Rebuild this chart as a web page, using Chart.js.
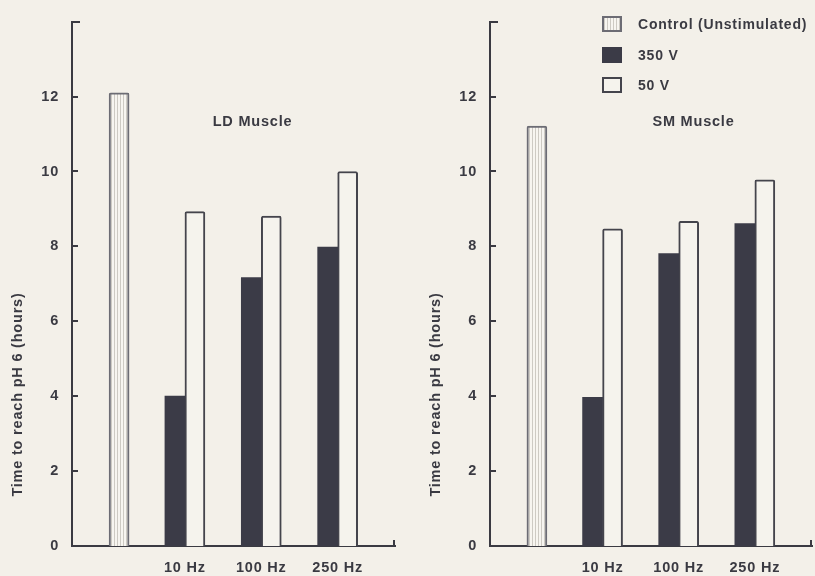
<!DOCTYPE html>
<html><head><meta charset="utf-8">
<script src="https://cdn.jsdelivr.net/npm/chart.js@4.4.0/dist/chart.umd.min.js"></script>
<style>
html,body{margin:0;padding:0;background:#f3f0e9;}
#wrap{position:relative;width:815px;height:576px;overflow:hidden;background:#f3f0e9;}
.c{position:absolute;top:0;height:576px;}
#c1{left:0;width:400px;}
#c2{left:418px;width:397px;}
</style></head><body>
<div id="wrap">
<div class="c" id="c1"><canvas id="ld"></canvas></div>
<div class="c" id="c2"><canvas id="sm"></canvas></div>
</div>
<script>
// ---- data ----
const freqLabels = ['10 Hz', '100 Hz', '250 Hz'];
const yTicks = [0, 2, 4, 6, 8, 10, 12, 14];
const seriesNames = ['Control (Unstimulated)', '350 V', '50 V'];
const ldControl = [12.1];
const ld350 = [4.0, 7.17, 7.98];
const ld50 = [8.93, 8.81, 10.0];
const smControl = [11.21];
const sm350 = [3.97, 7.81, 8.61];
const sm50 = [8.47, 8.67, 9.78];
const panelTitles = ['LD Muscle', 'SM Muscle'];
const yTitle = 'Time to reach pH 6 (hours)';

// ---- styles ----
const INK = '#3a3a42';
const DARK = '#3b3b47';
const PAPER = '#f5f3ed';
const FONT = "'Liberation Sans', Arial, Helvetica, sans-serif";

function makeHatch() {
  const p = document.createElement('canvas');
  p.width = 3; p.height = 4;
  const g = p.getContext('2d');
  g.fillStyle = '#f7f5f0'; g.fillRect(0, 0, 3, 4);
  g.fillStyle = '#cdcac3'; g.fillRect(0, 0, 1, 4);
  return g.createPattern(p, 'repeat');
}
const hatch = makeHatch();

const decor = {
  id: 'decor',
  beforeDraw(chart) { try { chart.ctx.letterSpacing = '0.8px'; } catch (e) {} },
  afterDraw(chart, args, opts) {
    const ctx = chart.ctx, a = chart.chartArea, y = chart.scales.y;
    ctx.save();
    ctx.strokeStyle = INK; ctx.lineWidth = 2;
    y.ticks.forEach(t => {
      if (t.value === 0) return;
      const py = Math.round(y.getPixelForValue(t.value));
      const len = t.value === y.max ? 8 : 6;
      ctx.beginPath(); ctx.moveTo(a.left - 1, py); ctx.lineTo(a.left + len, py); ctx.stroke();
    });
    ctx.beginPath(); ctx.moveTo(a.right - 1, a.bottom + 1); ctx.lineTo(a.right - 1, a.bottom - 6); ctx.stroke();

    try { ctx.letterSpacing = '0.8px'; } catch (e) {}
    ctx.fillStyle = INK;
    ctx.font = 'bold 14.5px ' + FONT;
    ctx.textAlign = 'center'; ctx.textBaseline = 'middle';
    ctx.fillText(opts.title, a.left + opts.titleDX, opts.titleY);

    ctx.save();
    ctx.translate(17.5, 394.5); ctx.rotate(-Math.PI / 2);
    ctx.fillText(yTitle, 0, 0);
    ctx.restore();

    if (opts.legend) {
      const ds = chart.data.datasets;
      const bx = a.left + 112, rows = [24, 55, 85];
      ctx.font = 'bold 14px ' + FONT;
      ctx.textAlign = 'left';
      ds.forEach((d, i) => {
        const cy = rows[i];
        ctx.fillStyle = d.backgroundColor;
        ctx.fillRect(bx, cy - 8, 20, 16);
        if (d.borderWidth) {
          ctx.strokeStyle = d.borderColor; ctx.lineWidth = 2;
          ctx.strokeRect(bx + 1, cy - 7, 18, 14);
        }
        ctx.fillStyle = INK;
        ctx.fillText(d.label, bx + 36, cy + 1);
      });
    }
    ctx.restore();
  }
};

function makeChart(id, ctrl, v350, v50, title, titleDX, padRight, legend) {
  const toXY = arr => arr.map((y, i) => ({ x: i, y }));
  const tickFont = { family: FONT, size: 14.5, weight: 'bold' };
  return new Chart(document.getElementById(id), {
    type: 'bar',
    data: {
      datasets: [
        { label: seriesNames[0], data: toXY(ctrl), xAxisID: 'xc', backgroundColor: hatch,
          borderColor: '#6c6c74', borderWidth: 2, barThickness: 20,
          borderRadius: { topLeft: 2, topRight: 2 } },
        { label: seriesNames[1], data: toXY(v350), xAxisID: 'x', backgroundColor: DARK,
          borderWidth: 0, barThickness: 20 },
        { label: seriesNames[2], data: toXY(v50), xAxisID: 'x', backgroundColor: PAPER,
          borderColor: '#44444c', borderWidth: 2, barThickness: 20,
          borderRadius: { topLeft: 2, topRight: 2 } }
      ]
    },
    options: {
      responsive: true, maintainAspectRatio: false, animation: false,
      layout: { padding: { top: 13, right: padRight, left: 0, bottom: 0 } },
      plugins: {
        legend: { display: false }, tooltip: { enabled: false },
        decor: { title, titleDX, titleY: 122, legend }
      },
      scales: {
        x: {
          type: 'linear', position: 'bottom', offset: false,
          min: -1.4787, max: 2.7508,
          afterBuildTicks: s => { s.ticks = freqLabels.map((_, i) => ({ value: i })); },
          afterFit: s => { s.height = 30; },
          grid: { display: false, drawTicks: false },
          border: { display: true, color: INK, width: 2 },
          ticks: { autoSkip: false, maxRotation: 0, padding: 13, color: INK, font: tickFont,
                   callback: v => freqLabels[v] ?? '' }
        },
        xc: { type: 'linear', display: false, offset: false, min: -0.7475, max: 3.482 },
        y: {
          min: 0, max: 14,
          afterFit: s => { s.width = 72; },
          afterBuildTicks: s => { s.ticks = yTicks.map(v => ({ value: v })); },
          grid: { display: false, drawTicks: false },
          border: { display: true, color: INK, width: 2 },
          ticks: { padding: 13, color: INK, font: tickFont,
                   callback: v => (v === 14 ? '' : String(v)) }
        }
      }
    },
    plugins: [decor]
  });
}

makeChart('ld', ldControl, ld350, ld50, panelTitles[0], 180.5, 5, false);
makeChart('sm', smControl, sm350, sm50, panelTitles[1], 203.5, 3, true);
</script>
</body></html>
